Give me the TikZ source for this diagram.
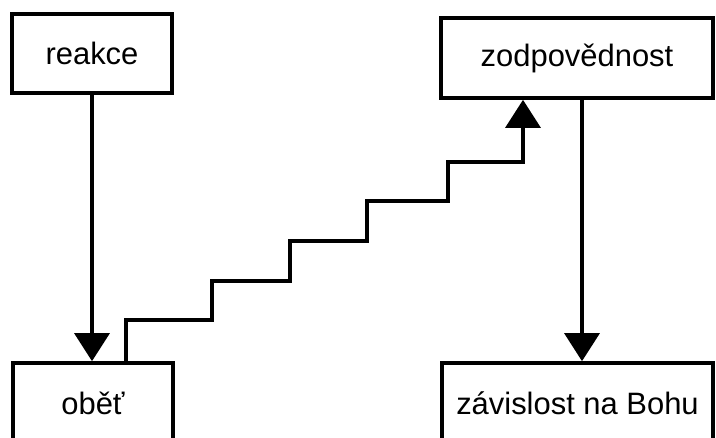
\documentclass[tikz,border=0pt]{standalone}
\usepackage{fontspec}
\setmainfont{Liberation Sans}
\usepackage{tikz}
\usetikzlibrary{arrows.meta, positioning, calc}

\begin{document}
\begin{tikzpicture}[
  x=0.025cm, y=-0.025cm,
  box/.style={draw=black, fill=white, line width=2.6pt, minimum height=2cm, inner sep=0pt, font=\fontsize{22}{26}\selectfont},
  arr/.style={line width=2.4pt, -{Triangle[width=0.875cm, length=0.7cm]}},
]
  \clip (0,0) rectangle (716,437);
  \node[box, minimum width=4cm, minimum height=1.975cm] (reakce) at (92,53.5) {reakce};
  \node[box, minimum width=6.8cm] (zodp) at (577,58) {zodpovědnost};
  \node[box, minimum width=4cm] (obet) at (93,403) {oběť};
  \node[box, minimum width=6.775cm] (zav) at (577.5,403) {závislost na Bohu};
  % arrows
  \draw[arr] (reakce.south) -- (reakce.south |- obet.north);
  \coordinate (down) at ($(zodp.south)+(5,0)$);
  \draw[arr] (down) -- (down |- zav.north);
  % stairs
  \draw[arr] ($(obet.north)+(33,0)$) -- ++(0,-41) -- ++(86,0) -- ++(0,-39) -- ++(78,0)
    -- ++(0,-40) -- ++(77,0) -- ++(0,-40) -- ++(81,0) -- ++(0,-39) -- ++(75,0)
    coordinate (top) -- (top |- zodp.south);
\end{tikzpicture}
\end{document}
